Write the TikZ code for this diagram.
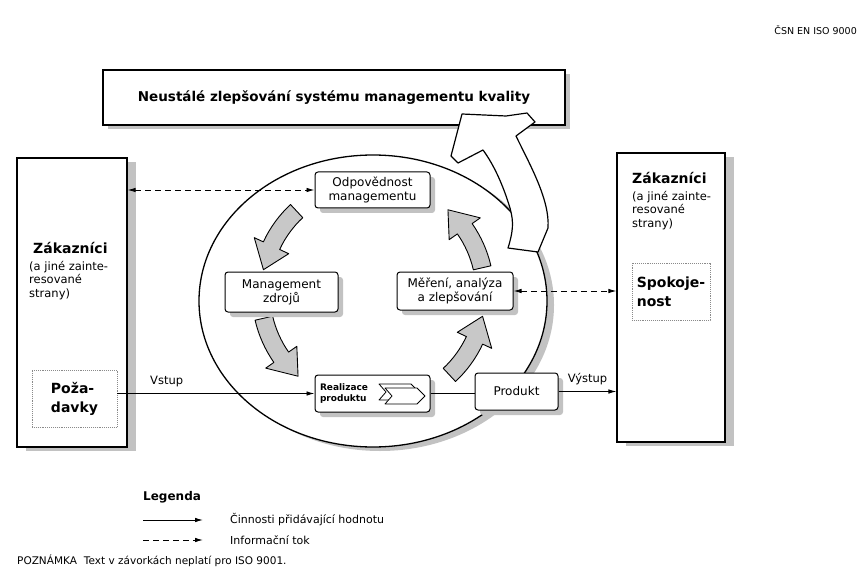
\documentclass[tikz,border=0pt]{standalone}
\usepackage{fontspec}
\setmainfont{DejaVu Sans}
\usepackage{tikz}
\usetikzlibrary{shapes,arrows.meta,positioning,calc,shadows}
\definecolor{shadowgray}{HTML}{C2C2C2}
\definecolor{arrowgray}{HTML}{C8C8C8}
\definecolor{dotgray}{HTML}{8A8A8A}

\begin{document}
\begin{tikzpicture}[
    x=1pt, y=-1pt,
    every node/.style={inner sep=0pt, align=center},
    mainbox/.style={draw, line width=1.1pt, fill=white, drop shadow={shadow xshift=#1, shadow yshift=-4pt, fill=shadowgray, opacity=1}},
    procbox/.style={draw, line width=1pt, rounded corners=3pt, fill=white, font=\fontsize{12}{14}\selectfont, drop shadow={shadow xshift=5pt, shadow yshift=-5pt, fill=shadowgray, opacity=1}},
    notebox/.style={draw=dotgray, densely dotted, line width=0.9pt, fill=white, align=left, font=\bfseries\fontsize{14}{19}\selectfont},
    custtitle/.style={anchor=west, font=\bfseries\fontsize{14}{17}\selectfont},
    custsub/.style={anchor=north west, align=left, font=\fontsize{11.5}{13.5}\selectfont},
    valueflow/.style={line width=0.9pt, -{Latex[length=8pt, width=4.5pt]}},
    infoflow/.style={line width=0.9pt, dash pattern=on 6pt off 4pt, {Latex[length=8pt, width=4.5pt]}-{Latex[length=8pt, width=4.5pt]}},
    cycarrow/.style={draw, line width=0.9pt, fill=arrowgray, line join=round},
    bigarrow/.style={draw, line width=1.2pt, fill=white, line join=round}
]
    \useasboundingbox (0,0) rectangle (859,572);

    % Header
    \node[anchor=east, font=\fontsize{9.5}{11}\selectfont] (hdr) at (857,30) {ČSN EN ISO 9000};

    % Continual improvement box
    \node[mainbox=5pt, minimum width=462pt, minimum height=55pt, font=\bfseries\fontsize{13.5}{16}\selectfont] (impr) at (334,97.5)
        {Neustálé zlepšování systému managementu kvality};

    % Process circle
    \coordinate (cyc) at (373,293);
    \fill[shadowgray] (380,305) ellipse[x radius=174, y radius=146];
    \draw[line width=1.3pt, fill=white] (373,301) ellipse[x radius=174, y radius=146];

    % Cycle arrows
    \foreach \a in {210,150,30,330} {
        \draw[cycarrow] ($(cyc)+({\a+17}:121)$) arc[start angle={\a+17}, end angle={\a-5}, radius=121]
            -- ($(cyc)+({\a-5}:131)$) -- ($(cyc)+({\a-18}:112)$) -- ($(cyc)+({\a-5}:93)$)
            -- ($(cyc)+({\a-5}:103)$) arc[start angle={\a-5}, end angle={\a+17}, radius=103] -- cycle;
    }

    % Processes
    \node[procbox, minimum width=115pt, minimum height=36pt] (resp) at (372.5,190) {Odpovědnost\\managementu};
    \node[procbox, minimum width=113pt, minimum height=40pt] (resmgmt) at (281.5,292) {Management\\zdrojů};
    \node[procbox, minimum width=116pt, minimum height=38pt] (meas) at (455,291) {Měření, analýza\\a zlepšování};
    \node[procbox, minimum width=115pt, minimum height=37pt, text width=105pt, align=left, font=\bfseries\fontsize{9}{11}\selectfont] (real) at (372.5,393.5) {Realizace\\produktu};
    \node[procbox, minimum width=83pt, minimum height=37pt] (prod) at (516.5,391.5) {Produkt};

    % Chevron in product realization
    \draw[line width=0.8pt, fill=white, line join=round] (379,384) -- (411,384) -- (419,392) -- (411,400) -- (379,400) -- (386,392) -- cycle;
    \draw[line width=0.8pt, fill=white, line join=round] (385,388) -- (417,388) -- (425,396) -- (417,404) -- (385,404) -- (392,396) -- cycle;

    % Improvement arrow
    \draw[bigarrow] (508,248) .. controls (513,232) and (514,222) .. (510,208)
        .. controls (503,185) and (494,165) .. (483,150)
        -- (458,163) -- (451,156) -- (462,114) -- (506,116) -- (527,113) -- (535,122) -- (516,136)
        .. controls (530,165) and (550,200) .. (548,228)
        -- (538,252) -- cycle;

    % Customers left
    \node[mainbox=9pt, minimum width=110pt, minimum height=289pt] (lbox) at (72,302.5) {};
    \node[custtitle] (ltitle) at (33,248) {Zákazníci};
    \node[custsub] (lsub) at (29,261) {(a jiné zainte-\\resované\\strany)};
    \node[notebox, minimum width=85pt, minimum height=57pt] (req) at (74.5,398.5) {Poža-\\davky};

    % Customers right
    \node[mainbox=9pt, minimum width=108pt, minimum height=289pt] (rbox) at (671,297.5) {};
    \node[custtitle] (rtitle) at (632,178) {Zákazníci};
    \node[custsub] (rsub) at (632,191) {(a jiné zainte-\\resované\\strany)};
    \node[notebox, minimum width=78pt, minimum height=57pt] (spok) at (671,291.5) {Spokoje-\\nost};

    % Flows
    \draw[infoflow] (resp.west -| lbox.east) -- (resp.west);
    \draw[infoflow] (meas.east) -- (meas.east -| rbox.west);
    \draw[valueflow] (req.east |- real.west) -- node[pos=0.25, above=6pt, font=\fontsize{11.5}{13}\selectfont] (inlbl) {Vstup} (real.west);
    \draw[line width=0.9pt] (real.east) -- (prod.west |- real.east);
    \draw[valueflow] (prod.east) -- node[midway, above=6pt, font=\fontsize{11.5}{13}\selectfont] (outlbl) {Výstup} (prod.east -| rbox.west);

    % Legend
    \node[anchor=west, font=\bfseries\fontsize{12}{14}\selectfont] (leg) at (143,497) {Legenda};
    \coordinate (v1) at (143,520);
    \coordinate (v2) at (203,520);
    \coordinate (i1) at (143,540);
    \coordinate (i2) at (203,540);
    \draw[valueflow] (v1) -- (v2);
    \draw[line width=0.9pt, dash pattern=on 6pt off 4pt, -{Latex[length=8pt, width=4.5pt]}] (i1) -- (i2);
    \node[anchor=west, font=\fontsize{11}{13}\selectfont] (legv) at (230,520) {Činnosti přidávající hodnotu};
    \node[anchor=west, font=\fontsize{11}{13}\selectfont] (legi) at (230,540) {Informační tok};
    \node[anchor=west, font=\fontsize{10.5}{12}\selectfont] (note) at (17,561) {POZNÁMKA\hspace{7pt}Text v závorkách neplatí pro ISO 9001.};
\end{tikzpicture}
\end{document}
